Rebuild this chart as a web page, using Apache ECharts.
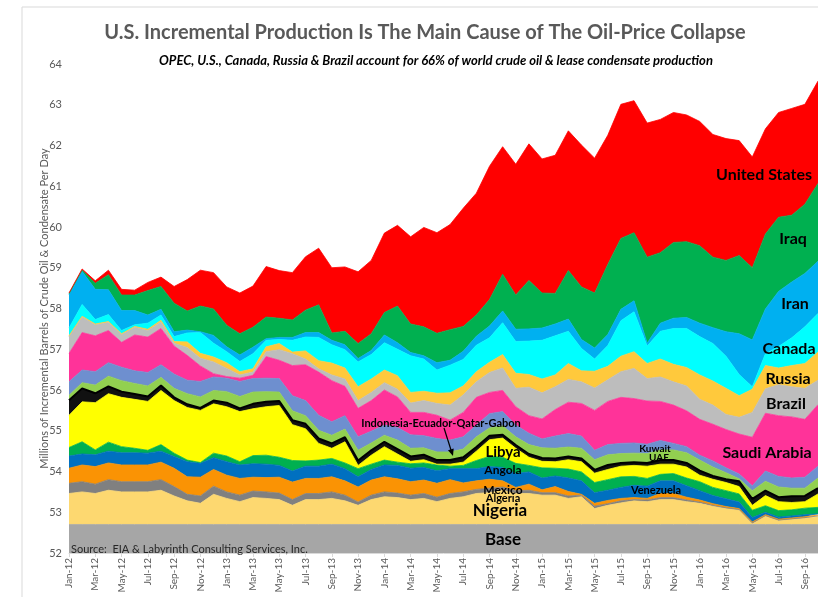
<!DOCTYPE html>
<html lang="en">
<head>
<meta charset="UTF-8">
<title>U.S. Incremental Production</title>
<script src="https://cdn.jsdelivr.net/npm/echarts@6/dist/echarts.min.js"></script>
<style>
    * {
        margin: 0px;
        padding: 0px;
    }
    html, body {
        width: 100%;
        height: 100%;
        overflow: hidden;
        background: #fff;
    }
    .container {
        width: 818px;
        height: 597px;
    }
</style>
</head>
<body>
<div class="container"></div>
<script>
    // monthly, Jan-12 .. Oct-16
    let months = ['Jan-12','Feb-12','Mar-12','Apr-12','May-12','Jun-12','Jul-12','Aug-12','Sep-12','Oct-12','Nov-12','Dec-12',
        'Jan-13','Feb-13','Mar-13','Apr-13','May-13','Jun-13','Jul-13','Aug-13','Sep-13','Oct-13','Nov-13','Dec-13',
        'Jan-14','Feb-14','Mar-14','Apr-14','May-14','Jun-14','Jul-14','Aug-14','Sep-14','Oct-14','Nov-14','Dec-14',
        'Jan-15','Feb-15','Mar-15','Apr-15','May-15','Jun-15','Jul-15','Aug-15','Sep-15','Oct-15','Nov-15','Dec-15',
        'Jan-16','Feb-16','Mar-16','Apr-16','May-16','Jun-16','Jul-16','Aug-16','Sep-16','Oct-16'];

    // millions of barrels per day, each layer stacked on the one below
    let base = [52.7,52.7,52.7,52.7,52.7,52.7,52.7,52.7,52.7,52.7,52.7,52.7,52.7,52.7,52.7,52.7,52.7,52.7,52.7,52.7,
        52.7,52.7,52.7,52.7,52.7,52.7,52.7,52.7,52.7,52.7,52.7,52.7,52.7,52.7,52.7,52.7,52.7,52.7,52.7,52.7,
        52.7,52.7,52.7,52.7,52.7,52.7,52.7,52.7,52.7,52.7,52.7,52.7,52.7,52.7,52.7,52.7,52.7,52.7];
    let nigeria = [.76,.80,.76,.84,.80,.80,.80,.84,.70,.58,.52,.74,.64,.56,.66, .64,.61,.47,.61,.61,.64,.58,.47,.61,.68,.66,.61,.64,.56,.64,
        .68,.76,.78,.84,.76,.76,.72,.72,.64,.68,.39,.47,.53,.58, .56,.61,.61,.56,.52,.45,.39,.35,.02,.20,.09,.12,.15,.19];
    let algeria = [.25,.25,.23,.26,.25,.25,.25,.26,.23,.16,.18,.20,.16,.16,.16, .16,.16,.14,.15,.15,.16,.14,.08,.11,.12,.11,.11,.12,.11,.12,
        .12,.10,.11,.08,.07,.08,.06,.06,.06,.04,.06,.04,.05,.03, .04,.05,.05,.04,.03,.02,.02,.02,.02,.02,.02,.02,.02,.02];
    let mexico = [.37,.41,.43,.41,.41,.41,.41,.43,.45,.43,.46,.41,.41,.41,.34, .35,.39,.43,.37,.37,.37,.35,.37,.37,.37,.35,.33,.33,.34,.34,
        .22,.21,.22,.15,.08,.15,.07,.15,.11,.02,.07,.08,.06,.05, .04,.10,.10,.07,.05,.04,.03,.02,.02,.02,.02,.02,.02,.02];
    let angola = [.30,.27,.29,.29,.30,.30,.29,.27,.29,.37,.34,.29,.33,.33,.33, .33,.29,.27,.30,.30,.31,.30,.25,.26,.29,.33,.33,.31,.31,.27,
        .35,.30,.31,.33,.34,.30,.29,.26,.33,.33,.26,.25,.27,.30, .30,.31,.31,.28,.23,.20,.19,.16,.11,.06,.05,.05,.05,.03];
    let venezuela = [.21,.30,.12,.22,.15,.11,.07,.16,.08,.04,.02,.11,.14,.08,.20, .22,.20,.26,.13,.15,.14,.14,.20,.13,.12,.08,.11,.11,.14,.06,
        .08,.20,.25,.25,.25,.16,.25,.19,.22,.22,.25,.26,.26,.22, .19,.16,.18,.19,.22,.20,.20,.20,.18,.16,.16,.15,.16,.16];
    let libya = [.79,.98,1.16,1.19,1.21,1.20,1.20,1.33,1.29,1.29,1.28,1.21,1.21,1.23,1.15, 1.19,1.27,.88,.79,.41,.25,.52,.08,.22,.33,.20,.06,.08,.02,.05,
        .08,.23,.41,.47,.37,.20,.16,.16,.23,.25,.23,.25,.26,.27, .30,.25,.23,.27,.16,.20,.20,.18,.12,.25,.22,.18,.16,.33];
    let iecqg = [.37,.33,.23,.18,.14,.13,.12,.12,.08,.08,.06,.08,.10,.08,.12, .12,.11,.11,.12,.12,.12,.11,.12,.12,.12,.12,.12,.12,.10,.10,
        .12,.10,.10,.08,.08,.08,.08,.08,.08,.08,.08,.11,.08,.08, .08,.10,.10,.10,.11,.08,.08,.13,.16,.12,.11,.15,.14,.14];
    let uae = [.12,.14,.20,.25,.27,.26,.26,.20,.22,.26,.27,.25,.27,.29,.29, .25,.22,.23,.20,.20,.20,.20,.25,.18,.16,.22,.20,.17,.20,.20,
        .20,.25,.19,.22,.20,.23,.25,.25,.23,.25,.25,.25,.23,.22, .23,.25,.25,.25,.26,.22,.16,.06,.20,.23,.25,.20,.19,.25];
    let kuwait = [.33,.31,.33,.33,.33,.31,.33,.31,.35,.33,.38,.33,.33,.37,.33, .33,.33,.37,.37,.37,.33,.33,.33,.29,.25,.31,.33,.30,.33,.29,
        .30,.29,.35,.35,.29,.28,.22,.30,.33,.30,.23,.25,.25,.25, .23,.23,.16,.15,.12,.15,.12,.12,.12,.25,.26,.25,.27,.29];
    let saudi = [.70,.92,.88,.79,.61,.88,.87,.89,.69,.61,.38,.08,.04,.08,.08, .53,.45,.74,.88,1.06,1.01,.72,.70,.75,.86,.75,.55,.57,.57,.49,
        .60,.68,.52,.52,.45,.43,.49,.65,.77,.80,.98,1.06,1.13,1.09, 1.06,.96,.94,.88,.88,.90,.94,.98,1.19,1.42,1.49,1.50,1.42,1.51];
    let brazil = [.41,.38,.27,.20,.19,.19,.16,.16,.07,.19,.19,.29,.20,.08,.08, .12,.26,.29,.14,.08,.14,.18,.19,.20,.18,.19,.23,.29,.29,.37,
        .43,.38,.49,.55,.45,.70,.64,.56,.56,.53,.55,.53,.63,.74, .55,.60,.57,.61,.49,.47,.37,.41,.61,.60,.76,.74,.76,.60];
    let russia = [.02,.02,.02,.02,.02,.02,.03,.04,.04,.14,.12,.12,.14,.08,.08, .12,.15,.04,.20,.20,.29,.27,.34,.33,.31,.33,.26,.23,.25,.30,
        .22,.25,.25,.33,.37,.31,.34,.29,.39,.27,.41,.33,.38,.41, .37,.44,.43,.45,.60,.59,.64,.53,.57,.57,.41,.52,.61,.69];
    let canada = [.19,.29,.11,.17,.08,.04,.15,.13,.12,.22,.51,.34,.27,.25,.37, .16,.10,.29,.34,.57,.45,.45,.61,.60,.67,.65,.90,.79,.57,.68,
        .65,.65,.60,.78,.78,.82,.95,.96,.79,.55,.30,.51,.87,.98, .43,.68,.88,.96,.94,.92,.79,.52,.06,.29,.53,.68,.90,.95];
    let iran = [.82,.81,.74,.61,.49,.35,.20,.14,.12,.07,.02,.19,.12,.16,.16, .04,.05,.07,.11,.12,.11,.12,.08,.10,.19,.16,.08,.08,.18,.12,
        .20,.22,.29,.29,.30,.30,.30,.29,.30,.22,.27,.27,.28,.27, .07,.20,.25,.27,.33,.39,.60,1.00,1.15,1.10,1.35,1.37,1.31,1.28];
    let iraq = [.02,.03,.15,.37,.38,.38,.60,.56,.70,.47,.63,.65,.53,.52,.49, .53,.47,.43,.55,.68,.18,.33,.37,.41,.55,.90,.70,.71,.72,.75,
        .61,.52,.65,.90,.84,1.19,.86,.75,1.19,1.29,1.35,1.72,1.74,1.67, 2.11,1.73,1.86,1.86,1.90,1.73,1.75,1.92,1.77,1.84,1.82,1.64,1.70,1.91];
    let usa = [.02,.03,.06,.11,.14,.12,.20,.23,.41,.77,.88,.89,.94,1.00,1.01, 1.24,1.17,1.16,1.31,1.39,1.60,1.58,1.76,1.80,1.95,1.98,2.14,2.44,2.47,2.58,
        2.90,2.99,3.27,3.13,3.21,3.35,3.29,3.39,3.43,3.48,3.31,3.17,3.29,3.24, 3.29,3.27,3.19,3.11,3.05,3.01,2.99,2.82,2.72,2.58,2.57,2.62,2.45,2.51];

    // bottom to top
    let layers = [
        ['Base', base, '#A6A6A6'],
        ['Nigeria', nigeria, '#FDD870'],
        ['Algeria', algeria, '#808080'],
        ['Mexico', mexico, '#FA9304'],
        ['Angola', angola, '#0070C0'],
        ['Venezuela', venezuela, '#00B050'],
        ['Libya', libya, '#FFFF00'],
        ['Indonesia-Ecuador-Qatar-Gabon', iecqg, '#111111'],
        ['UAE', uae, '#92D050'],
        ['Kuwait', kuwait, '#6E8FCF'],
        ['Saudi Arabia', saudi, '#FF3399'],
        ['Brazil', brazil, '#BDBDBD'],
        ['Russia', russia, '#FFC93C'],
        ['Canada', canada, '#00FFFF'],
        ['Iran', iran, '#00B0F0'],
        ['Iraq', iraq, '#00B050'],
        ['United States', usa, '#FF0000']
    ];

    let series = layers.map(l => ({
        name: l[0],
        type: 'line',
        stack: 'total',
        data: l[1],
        symbol: 'none',
        silent: true,
        lineStyle: l[0] == 'Indonesia-Ecuador-Qatar-Gabon' ? {width: 2, color: '#000'} : {width: 0.8, color: l[2]},
        areaStyle: {color: l[2], opacity: 1}
    }));

    // text placed over the areas: [text, x, y, size]
    let tags = [
        ['United States', 764, 175, 16],
        ['Iraq', 793, 239, 16],
        ['Iran', 795, 304, 16],
        ['Canada', 789, 349, 16],
        ['Russia', 788, 379, 16],
        ['Brazil', 786, 404, 16],
        ['Saudi Arabia', 767, 453, 16],
        ['Kuwait', 655, 449, 10],
        ['UAE', 659, 458, 10],
        ['Venezuela', 656, 490, 11],
        ['Indonesia-Ecuador-Qatar-Gabon', 441, 423, 11],
        ['Libya', 503, 452, 15],
        ['Angola', 503, 470, 12],
        ['Mexico', 503, 490, 12],
        ['Algeria', 503, 498, 11],
        ['Nigeria', 500, 511, 17],
        ['Base', 503, 540, 17]
    ];

    let font = 'Lato, "Open Sans", sans-serif';
    let graphic = [
        {type: 'line', shape: {x1: 22, y1: 7, x2: 818, y2: 7}, style: {stroke: '#d9d9d9', lineWidth: 1}},
        {type: 'line', shape: {x1: 22, y1: 7, x2: 22, y2: 597}, style: {stroke: '#d9d9d9', lineWidth: 1}},
        {type: 'text', x: 425, y: 33, style: {text: 'U.S. Incremental Production Is The Main Cause of The Oil-Price Collapse',
            fill: '#595959', font: 'bold 20px ' + font, textAlign: 'center', textVerticalAlign: 'middle'}},
        {type: 'text', x: 436, y: 61, style: {text: 'OPEC, U.S., Canada, Russia & Brazil account for 66% of world crude oil & lease condensate production',
            fill: '#000', font: 'italic bold 13px ' + font, textAlign: 'center', textVerticalAlign: 'middle'}},
        {type: 'text', x: 71, y: 549, z: 10, style: {text: 'Source:  EIA & Labyrinth Consulting Services, Inc.',
            fill: '#262626', font: '11px ' + font, textAlign: 'left', textVerticalAlign: 'middle'}},
        {type: 'line', z: 10, shape: {x1: 444, y1: 428, x2: 451, y2: 450}, style: {stroke: '#000', lineWidth: 1.2}},
        {type: 'polygon', z: 10, shape: {points: [[453, 456], [453.7, 448.4], [448, 450.2]]}, style: {fill: '#000'}}
    ];
    tags.forEach(t => {
        graphic.push({type: 'text', x: t[1], y: t[2], z: 10, style: {text: t[0], fill: '#000',
            font: 'bold ' + t[3] + 'px ' + font, textAlign: 'center', textVerticalAlign: 'middle'}});
    });

    let container = document.querySelector('.container');
    let mycharts = echarts.init(container);
    let option = {
        backgroundColor: '#fff',
        animation: false,
        grid: {left: 69, right: 0, top: 64, bottom: 44},
        xAxis: {
            type: 'category',
            data: months,
            boundaryGap: false,
            axisLine: {lineStyle: {color: '#d9d9d9'}},
            axisTick: {show: true, interval: 1, length: 4, lineStyle: {color: '#d9d9d9'}},
            axisLabel: {interval: 1, rotate: 90, fontSize: 10, color: '#595959', fontFamily: font, margin: 5}
        },
        yAxis: {
            type: 'value',
            min: 52,
            max: 64,
            interval: 1,
            name: 'Millions of Incremental Barrels of Crude Oil & Condensate Per Day',
            nameLocation: 'middle',
            nameGap: 19,
            nameMoveOverlap: false,
            nameTextStyle: {fontSize: 11, color: '#595959', fontFamily: font},
            axisLine: {show: false},
            axisTick: {show: false},
            splitLine: {show: false},
            axisLabel: {fontSize: 11, color: '#595959', fontFamily: font, margin: 7}
        },
        series,
        graphic
    };
    mycharts.setOption(option);
</script>
</body>
</html>
